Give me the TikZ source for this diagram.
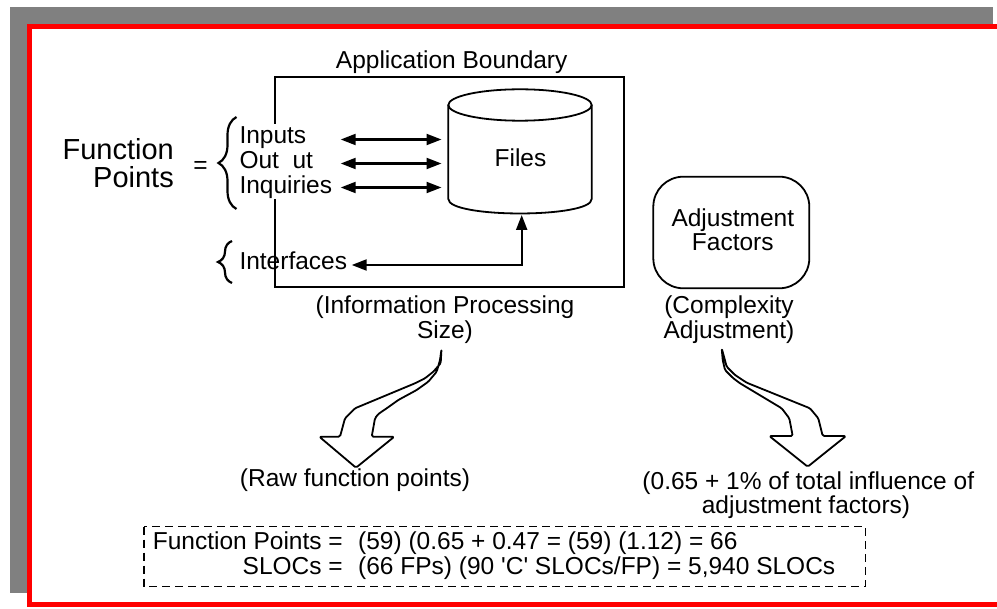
\documentclass[tikz,border=0pt]{standalone}
\usepackage{fontspec}
\setmainfont{Liberation Sans}[Ligatures=TeXOff]
\usetikzlibrary{arrows.meta,decorations.pathreplacing}
\definecolor{shadowgray}{HTML}{808080}
\definecolor{framered}{HTML}{FF0000}

\begin{document}
\begin{tikzpicture}[x=1pt,y=-1pt,
  txt/.style={inner sep=0pt,font=\fontsize{24.5}{26}\selectfont},
  bigtxt/.style={inner sep=0pt,font=\fontsize{29}{30}\selectfont},
  ln/.style={line width=1.8pt},
  dbl/.style={line width=2.1pt,{Triangle[length=15pt,width=11pt]}-{Triangle[length=15pt,width=11pt]}},
  bracepath/.style={decorate,line width=2.2pt},
  blockarrow/.style={ln,fill=white,line join=round,rounded corners=1.5pt},
]
\useasboundingbox (0,0) rectangle (997,609);
\clip (0,0) rectangle (997,609);

% shadow and red frame
\fill[shadowgray] (10,7.5) rectangle (993.3,592.7);
\draw[framered,line width=5.3pt,fill=white] (29.2,26.7) rectangle (1010,604.2);

% application boundary
\node[txt,anchor=base] (boundtitle) at (451.7,68.3) {Application Boundary};
\draw[ln] (275,124) -- (275,77.3) -- (624.3,77.3) -- (624.3,287) -- (275,287) -- (275,199.3);

% files cylinder
\node[inner sep=0pt,minimum width=143.4pt,minimum height=124pt] (files) at (520,151.3) {};
\draw[ln,fill=white] (448.3,105) -- (448.3,199)
  .. controls (448.3,218.3) and (591.7,218.3) .. (591.7,199) -- (591.7,105);
\draw[ln] (520,105) ellipse [x radius=71.7, y radius=15.7];
\node[txt,anchor=base] (filestxt) at (520.5,166.7) {Files};

% function points equation
\node[bigtxt,anchor=base east] (fp1) at (174,160) {Function};
\node[bigtxt,anchor=base east] (fp2) at (174,188) {Points};
\node[txt,anchor=base] (eq) at (200.5,173.5) {=};
\draw[bracepath,decoration={brace,amplitude=18pt}] (236.5,209) -- (236.5,117);
\draw[bracepath,decoration={brace,amplitude=14pt}] (232,283) -- (232,241);

\node[txt,anchor=base west] (inp) at (239.3,144) {Inputs};
\node[txt,anchor=base west] (outp) at (239.3,168.7) {Out\hspace{0.556em}ut};
\node[txt,anchor=base west] (inq) at (239.3,193.3) {Inquiries};
\node[txt,anchor=base west] (intf) at (239.3,269.3) {Interfaces};

% data flows to and from the files
\coordinate (in1) at (340.7,139.5);
\coordinate (in2) at (340.7,163.5);
\coordinate (in3) at (340.7,187.5);
\draw[dbl,shorten >=6.6pt] (in1) -- (in1 -| files.west);
\draw[dbl,shorten >=6.6pt] (in2) -- (in2 -| files.west);
\draw[dbl,shorten >=6.6pt] (in3) -- (in3 -| files.west);
\coordinate (ifl) at (351.7,265);
\coordinate (ifc) at (521.7,265);
\coordinate (ifb) at (521.7,215);
\draw[dbl] (ifl) -- (ifc) -- (ifb);

% adjustment factors
\node[draw,ln,rounded corners=30pt,inner sep=0pt,minimum width=156pt,minimum height=111.6pt] (adj) at (731.3,232.5) {};
\node[txt,anchor=base] (adj1) at (732.8,226.7) {Adjustment};
\node[txt,anchor=base] (adj2) at (732.8,250.7) {Factors};

% captions
\node[txt,anchor=base] (ips1) at (445,313.3) {(Information Processing};
\node[txt,anchor=base] (ips2) at (445,338.3) {Size)};
\node[txt,anchor=base] (cx1) at (729,313.3) {(Complexity};
\node[txt,anchor=base] (cx2) at (729,338.3) {Adjustment)};

% curved block arrows
\draw[blockarrow] (441.5,349) -- (440.7,363.3) -- (433.3,371.7) -- (425,378.3) -- (415,383.3)
  -- (355,408.3) -- (345,418.3) -- (340,436.7) -- (319.3,436.7) -- (356,467.7)
  -- (394.3,436.7) -- (371.7,436.7) -- (375,418.3) -- (378.3,414) -- (386.7,408.3)
  -- (398.3,400) -- (416.7,390) -- (428.3,381.7) -- (436.7,371.7) -- (440,360) -- cycle;
\draw[blockarrow] (721.7,348.3) -- (722.7,360) -- (725,370) -- (733.3,378.3) -- (740,383.3)
  -- (781.7,408.3) -- (789.3,418.3) -- (792.7,436) -- (769.3,436) -- (807.7,466.7)
  -- (846,436) -- (822.7,436) -- (818.3,418.3) -- (810,408.3) -- (746.7,382.7)
  -- (735,375) -- (726.7,366.7) -- cycle;

\node[txt,anchor=base] (raw) at (355,486.7) {(Raw function points)};
\node[txt,anchor=base] (inf1) at (808.3,490) {(0.65 + 1\% of total influence of};
\node[txt,anchor=base] (inf2) at (806,513.3) {adjustment factors)};

% worked example
\draw[line width=1.5pt,dash pattern=on 8pt off 5pt] (144,526.7) rectangle (865.5,586.5);
\node[txt,anchor=base east] (r1l) at (343,550) {Function Points =};
\node[txt,anchor=base west] (r1v) at (358,550) {(59) (0.65 + 0.47 = (59) (1.12) = 66};
\node[txt,anchor=base east] (r2l) at (343,575) {SLOCs =};
\node[txt,anchor=base west] (r2v) at (358,575) {(66 FPs) (90 'C' SLOCs/FP) = 5,940 SLOCs};
\end{tikzpicture}
\end{document}
